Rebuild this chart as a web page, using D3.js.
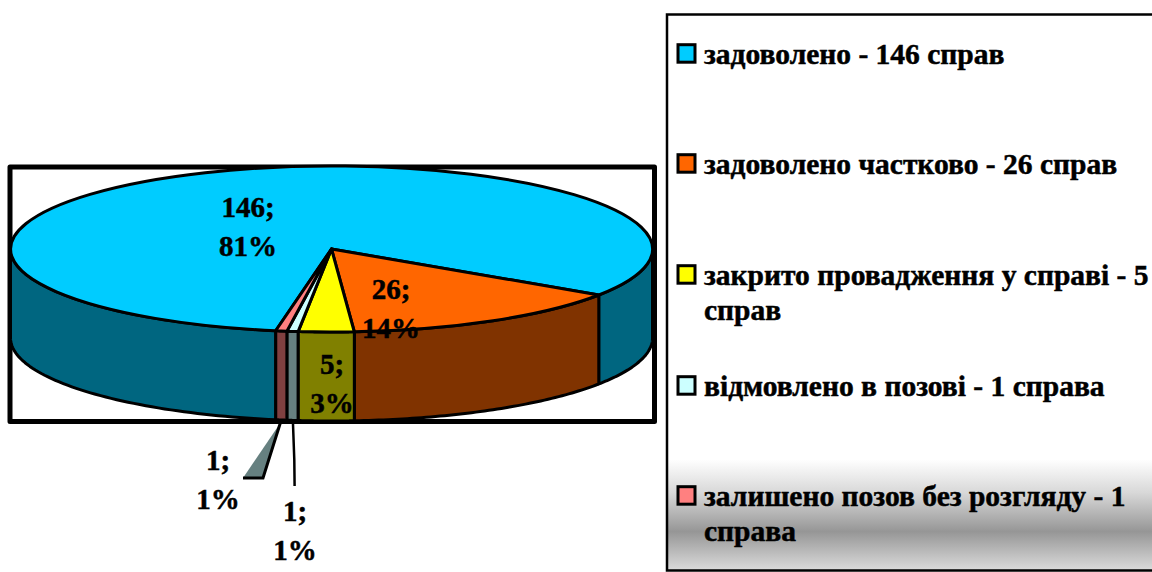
<!DOCTYPE html>
<html>
<head>
<meta charset="utf-8">
<title>Результати розгляду справ</title>
<style>
  html, body { margin: 0; padding: 0; background: #fff; overflow: hidden; }
  svg { display: block; }
  text { font-family: "Liberation Serif", serif; font-weight: bold; fill: #000; stroke: #000; stroke-width: 0.5; }
</style>
</head>
<body>
<svg id="svg" width="1152" height="572"></svg>
<script src="https://cdn.jsdelivr.net/npm/d3@7"></script>
<script>
// data
const values = [146, 26, 5, 1, 1]
const percents = [81, 14, 3, 1, 1]
const legendLines = [
  ['задоволено - 146 справ'],
  ['задоволено частково - 26 справ'],
  ['закрито провадження у справі - 5', 'справ'],
  ['відмовлено в позові - 1 справа'],
  ['залишено позов без розгляду - 1', 'справа']
]
const topColors = ['#00CCFF', '#FF6600', '#FFFF00', '#CCFFFF', '#FF8080']
const sideColors = ['#006680', '#803300', '#808000', '#668080', '#804040']

// layout
const cx = 331.5, cy = 249, rx = 321, ry = 83, depth = 89
const firstAngle = 190 * Math.PI / 180
const labelPos = [[248, 217], [391, 299], [332, 374], [295, 521], [218, 470]]
const legendRows = [64, 174, 285, 396, 506]

const svg = d3.select('#svg')
const defs = svg.append('defs')
const grad = defs.append('linearGradient')
  .attr('id', 'boxfill').attr('x1', 0).attr('y1', 0).attr('x2', 0).attr('y2', 1)
const stops = [[0, '#fff'], [0.8, '#fff'], [0.86, '#d8d8d8'], [0.93, '#969696'], [1, '#dcdcdc']]
grad.selectAll('stop').data(stops).join('stop')
  .attr('offset', d => d[0]).attr('stop-color', d => d[1])

// scales turning unit circle coordinates into the tilted ellipse
const px = d3.scaleLinear().domain([-1, 1]).range([cx - rx, cx + rx])
const py = d3.scaleLinear().domain([-1, 1]).range([cy - ry, cy + ry])
const edge = a => [px(Math.sin(a)), py(-Math.cos(a))]

const pie = d3.pie().sort(null).startAngle(firstAngle).endAngle(firstAngle + 2 * Math.PI)
const arcs = pie(values)

// plot frame
svg.append('rect')
  .attr('x', 10).attr('y', 167).attr('width', 644.5).attr('height', 254.5)
  .attr('fill', '#fff').attr('stroke', '#000').attr('stroke-width', 5)
  .attr('stroke-linejoin', 'round')

const line = d3.line()

// the visible front pieces of a slice: parts of its angle range facing the viewer
function frontParts(d) {
  const parts = []
  const T = 2 * Math.PI
  for (let k = 0; k < 3; k++) {
    const lo = Math.max(d.startAngle, Math.PI / 2 + k * T)
    const hi = Math.min(d.endAngle, 3 * Math.PI / 2 + k * T)
    if (hi > lo) parts.push([lo, hi])
  }
  return parts
}

const sides = svg.append('g')
arcs.forEach((d, i) => {
  frontParts(d).forEach(([lo, hi]) => {
    const top = d3.range(0, 61).map(s => edge(lo + (hi - lo) * s / 60))
    const bottom = top.slice().reverse().map(p => [p[0], p[1] + depth])
    sides.append('path')
      .attr('d', line(top.concat(bottom)) + 'Z')
      .attr('fill', sideColors[i])
      .attr('stroke', '#000').attr('stroke-width', 3).attr('stroke-linejoin', 'round')
  })
})

// top face
const arcGen = d3.arc().innerRadius(0).outerRadius(1)
svg.append('g')
  .attr('transform', `translate(${cx},${cy}) scale(${rx},${ry})`)
  .selectAll('path').data(arcs).join('path')
  .attr('d', arcGen)
  .attr('fill', (d, i) => topColors[i])
  .attr('stroke', '#000').attr('stroke-width', 3)
  .attr('vector-effect', 'non-scaling-stroke')
  .attr('stroke-linejoin', 'round')

// leader lines, the pink one is a filled polyline like in the original
const mid = d => (d.startAngle + d.endAngle) / 2
const pinkEdge = edge(mid(arcs[4]))
const cyanEdge = edge(mid(arcs[3]))
svg.append('path')
  .attr('d', line([[pinkEdge[0] - 1, pinkEdge[1] + depth + 3], [263, 478], [243, 478]]))
  .attr('fill', '#668080').attr('stroke', '#000').attr('stroke-width', 3)
svg.append('path')
  .attr('d', line([[cyanEdge[0] + 0.5, cyanEdge[1] + depth + 3], [294.3, 460], [294.6, 486]]))
  .attr('fill', 'none').attr('stroke', '#000').attr('stroke-width', 2.5)

// data labels
const labels = svg.append('g').attr('font-size', 29).attr('text-anchor', 'middle')
values.forEach((v, i) => {
  const [x, y] = labelPos[i]
  labels.append('text').attr('x', x).attr('y', y).text(`${v};`)
  labels.append('text').attr('x', x).attr('y', y + 39).text(`${percents[i]}%`)
})

// legend, the box runs past the right edge of the picture
svg.append('rect')
  .attr('x', 667).attr('y', 14.5).attr('width', 500).attr('height', 556)
  .attr('fill', 'url(#boxfill)').attr('stroke', '#000').attr('stroke-width', 2.5)

const rows = svg.append('g').selectAll('g').data(legendLines).join('g')
  .attr('transform', (d, i) => `translate(0,${legendRows[i]})`)
rows.append('rect')
  .attr('x', 678).attr('y', -19.3).attr('width', 17).attr('height', 17.5)
  .attr('fill', (d, i) => topColors[i])
  .attr('stroke', '#000').attr('stroke-width', 3)
rows.each(function (d) {
  d3.select(this).selectAll('text').data(d).join('text')
    .attr('x', 704).attr('y', (t, j) => j * 34.5)
    .attr('font-size', 29.5)
    .text(t => t)
})
</script>
</body>
</html>
